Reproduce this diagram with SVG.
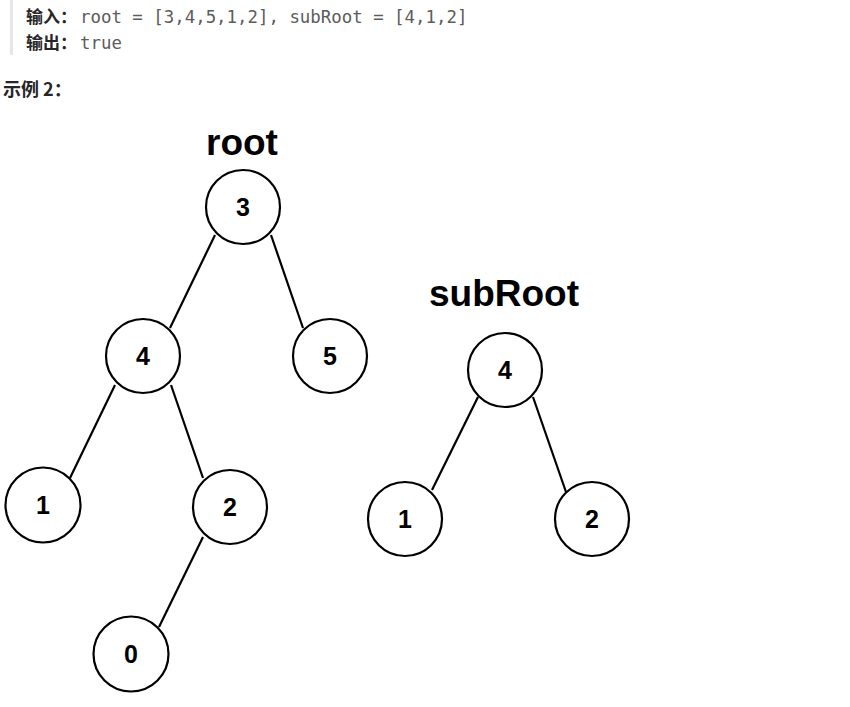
<svg xmlns="http://www.w3.org/2000/svg" width="850" height="707" viewBox="0 0 850 707">
<style>
.n circle{fill:#fff;stroke:#000;stroke-width:2.2}
.n text{font-family:"Liberation Sans",Arial,sans-serif;font-weight:bold;font-size:25px;text-anchor:middle;fill:#000}
.e line{stroke:#000;stroke-width:2.2}
.lbl{font-family:"Noto Sans CJK SC","Noto Sans",sans-serif;font-weight:bold;font-size:17px;fill:#262626}
.code{font-family:"DejaVu Sans Mono","Liberation Mono",monospace;font-size:17.4px;fill:#5c5c5c}
.title{font-family:"Liberation Sans",Arial,sans-serif;font-weight:bold;font-size:37px;fill:#000}
</style>
<rect width="850" height="707" fill="#fff"/>
<rect x="10" y="0" width="3" height="55" fill="#e6e6e6"/>
<text class="lbl" x="26" y="23">输入：</text>
<text class="code" x="80" y="23">root = [3,4,5,1,2], subRoot = [4,1,2]</text>
<text class="lbl" x="26" y="49">输出：</text>
<text class="code" x="80" y="49">true</text>
<text class="lbl" x="3" y="96" style="font-size:18px">示例 2：</text>
<text class="title" x="206" y="155">root</text>
<text class="title" x="429" y="306">subRoot</text>
<g id="edges" class="e">
<line x1="215" y1="235" x2="170" y2="328"/>
<line x1="271" y1="235" x2="303" y2="328"/>
<line x1="115" y1="385" x2="70" y2="478"/>
<line x1="171" y1="385" x2="203" y2="478"/>
<line x1="203" y1="537" x2="159" y2="627"/>
<line x1="478" y1="397" x2="432" y2="490"/>
<line x1="533" y1="397" x2="566" y2="492"/>
</g>
<g id="r3" class="n"><circle cx="243" cy="207" r="37"/><text x="243" y="216">3</text></g>
<g id="r4" class="n"><circle cx="143" cy="356" r="37"/><text x="143" y="365">4</text></g>
<g id="r5" class="n"><circle cx="330" cy="356" r="37"/><text x="330" y="365">5</text></g>
<g id="r1" class="n"><circle cx="43" cy="505" r="37.5"/><text x="43" y="514">1</text></g>
<g id="r2" class="n"><circle cx="230" cy="507" r="37"/><text x="230" y="516">2</text></g>
<g id="r0" class="n"><circle cx="131" cy="654" r="37.5"/><text x="131" y="663">0</text></g>
<g id="s4" class="n"><circle cx="505" cy="370" r="37"/><text x="505" y="379">4</text></g>
<g id="s1" class="n"><circle cx="405" cy="519" r="37"/><text x="405" y="528">1</text></g>
<g id="s2" class="n"><circle cx="592" cy="519" r="37"/><text x="592" y="528">2</text></g>
</svg>
